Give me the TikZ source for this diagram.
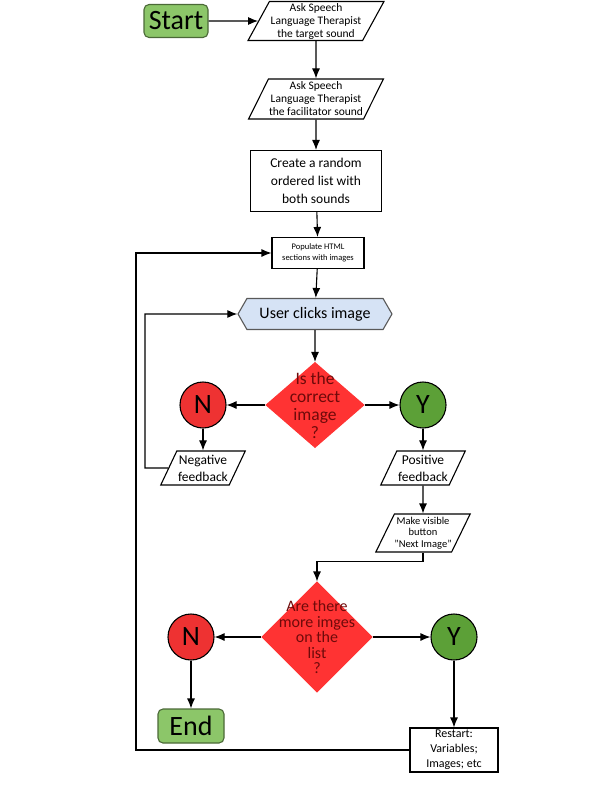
\documentclass[tikz,border=0pt]{standalone}
\usepackage{fontspec}
\setmainfont{Carlito}
\usepackage{tikz}
\usetikzlibrary{shapes.geometric,shapes.symbols,arrows.meta}
\definecolor{startgreen}{RGB}{140,198,105}
\definecolor{startedge}{RGB}{75,105,55}
\definecolor{yesgreen}{RGB}{92,160,55}
\definecolor{nored}{RGB}{238,50,50}
\definecolor{decred}{RGB}{255,51,51}
\definecolor{decfont}{RGB}{110,10,10}
\definecolor{userblue}{RGB}{214,227,245}

\begin{document}
\begin{tikzpicture}[x=1pt,y=-1pt,line width=1.1pt,
  arr/.style={-{Latex[length=10pt,width=8pt]}},
  terminal/.style={draw=startedge,fill=startgreen,rounded corners=5pt,minimum width=64,minimum height=33,inner sep=0pt,font=\fontsize{28}{30}\selectfont},
  io/.style={draw,trapezium,trapezium left angle=60,trapezium right angle=120,trapezium stretches=true,align=center,inner sep=0pt},
  proc/.style={draw,align=center,inner sep=0pt},
  yn/.style={draw,circle,minimum size=46,inner sep=0pt,font=\fontsize{28}{30}\selectfont},
  decision/.style={diamond,fill=decred,draw=decred,inner sep=0pt}]
\useasboundingbox (0,0) rectangle (615,800);

\node[terminal] (start) at (176,21) {Start};
\node[io,minimum width=136,minimum height=39,font=\fontsize{11.5}{13}\selectfont] (ask1) at (316,21) {Ask Speech\\Language Therapist\\the target sound};
\node[io,minimum width=135,minimum height=40,font=\fontsize{11.5}{13}\selectfont] (ask2) at (316,99) {Ask Speech\\Language Therapist\\the facilitator sound};
\node[proc,minimum width=131,minimum height=61,font=\fontsize{13.5}{18}\selectfont] (list) at (316,181) {Create a random\\ordered list with\\both sounds};
\node[proc,minimum width=92,minimum height=31,font=\fontsize{8.5}{11}\selectfont] (pop) at (318,253) {Populate HTML\\sections with images};
\node[signal,signal to=west and east,signal pointer angle=120,draw=black!65,fill=userblue,minimum width=154,minimum height=31,inner sep=0pt,font=\fontsize{16}{18}\selectfont] (user) at (315,314) {User clicks image};

\node[decision,minimum width=98,minimum height=85,
  label={[font=\fontsize{17.5}{18}\selectfont,text=decfont,align=center]center:{Is the\\correct\\image\\?}}] (q1) at (315,405) {};
\node[yn,fill=nored] (n1) at (203,405) {N};
\node[yn,fill=yesgreen] (y1) at (423,405) {Y};
\node[io,minimum width=85,minimum height=34,font=\fontsize{13.5}{17}\selectfont] (neg) at (203,468) {Negative\\feedback};
\node[io,minimum width=85,minimum height=34,font=\fontsize{13.5}{17}\selectfont] (pos) at (423,468) {Positive\\feedback};
\node[io,minimum width=93,minimum height=38,font=\fontsize{10.5}{11.5}\selectfont] (vis) at (423,533) {Make visible\\button\\"Next Image"};

\node[decision,minimum width=110,minimum height=110,
  label={[font=\fontsize{16}{15.5}\selectfont,text=decfont,align=center]center:{Are there\\more imges\\on the\\list\\?}}] (q2) at (317,637) {};
\node[yn,fill=nored] (n2) at (191,637) {N};
\node[yn,fill=yesgreen] (y2) at (454,637) {Y};
\node[terminal,minimum width=66,minimum height=34] (stop) at (191,726) {End};
\node[proc,minimum width=88,minimum height=44,font=\fontsize{12}{15}\selectfont] (restart) at (454,750) {Restart:\\Variables;\\Images; etc};

\foreach \from/\to in {start/ask1,ask1/ask2,ask2/list,list/pop,pop/user,user/q1,q1/n1,q1/y1,n1/neg,y1/pos,pos/vis,q2/n2,q2/y2,n2/stop,y2/restart}
  \draw[arr] (\from) -- (\to);

\coordinate (negback) at (145,468);
\coordinate (back) at (136,750);
\draw[arr] (neg.west) -- (negback) |- (user.west);
\draw[arr] (vis.south) -- ++(0,9) -| (q2.north);
\draw[arr] (restart.west) -- (back) |- (pop.west);
\end{tikzpicture}
\end{document}
